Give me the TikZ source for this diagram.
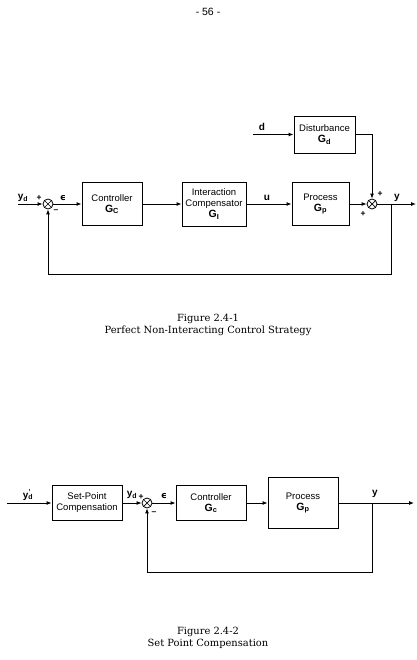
\documentclass[tikz,border=0pt]{standalone}
\usepackage{fontspec}
\setmainfont{DejaVu Serif}
\setsansfont{Liberation Sans}
\newfontfamily\greekfont{DejaVu Sans}
\usetikzlibrary{arrows.meta}

\begin{document}
\begin{tikzpicture}[x=1pt, y=-1pt,
  blk/.style ={draw, line width=0.9pt, align=center, inner sep=1pt,
               font=\sffamily\fontsize{9.5}{11}\selectfont},
  sumj/.style={draw, circle, line width=0.8pt, minimum size=10pt, inner sep=0pt,
               path picture={\draw[line width=0.7pt]
                 (path picture bounding box.north west) -- (path picture bounding box.south east)
                 (path picture bounding box.south west) -- (path picture bounding box.north east);}},
  sig/.style ={-{Latex[length=5pt, width=4pt]}, line width=0.9pt},
  lbl/.style ={font=\sffamily\bfseries\fontsize{10}{10}\selectfont, inner sep=0pt},
  sgn/.style ={font=\sffamily\bfseries\fontsize{8.5}{8.5}\selectfont, inner sep=0pt},
  figcap/.style={font=\fontsize{9.9}{12.5}\selectfont, align=center},
]
\newcommand\gname[1]{{\bfseries\fontsize{10.5}{12}\selectfont #1}}
\newcommand\errsym{{\greekfont\bfseries\fontsize{9}{9}\selectfont ϵ}}
\useasboundingbox (0,0) rectangle (416,660);

\node[font=\sffamily\fontsize{10.5}{10.5}\selectfont] (pg) at (208,12) {- 56 -};

% ============================ figure 2.4-1 ==================================
\node[blk, minimum width=60pt, minimum height=43pt] (ctrl) at (112,204)
     {Controller\\\gname{G\textsubscript{C}}};
\node[blk, minimum width=64pt, minimum height=44pt] (comp) at (214,204)
     {Interaction\\Compensator\\\gname{G\textsubscript{I}}};
\node[blk, minimum width=57pt, minimum height=43pt] (proc) at (320.5,204)
     {Process\\\gname{G\textsubscript{p}}};
\node[blk, minimum width=61pt, minimum height=37pt] (dist) at (324.5,134.5)
     {Disturbance\\\gname{G\textsubscript{d}}};
\node[sumj] (s1) at (48,204) {};
\node[sumj] (s2) at (372,204) {};

\coordinate (yin)  at (18,204);
\coordinate (din)  at (253,134.5);
\coordinate (tap)  at (391,204);
\coordinate (yout) at (416,204);
\coordinate (fb)   at (391,274);

\draw[sig] (yin) -- (s1);
\draw[sig] (s1) -- (ctrl);
\draw[sig] (ctrl) -- (comp);
\draw[sig] (comp) -- (proc);
\draw[sig] (proc) -- (s2);
\draw[sig] (din) -- (dist);
\draw[sig] (dist.east) -| (s2);
\draw[sig] (s2) -- (yout);
\draw[sig] (tap) -- (fb) -| (s1);

\node[lbl] (lyd) at (23,198) {y\textsubscript{d}};
\node[sgn] (p1)  at (39,198) {+};
\node[sgn] (m1)  at (56,211) {--};
\node[lbl] (le)  at (63,198) {\errsym};
\node[lbl] (lu)  at (267,198) {u};
\node[lbl] (ld)  at (262,127) {d};
\node[sgn] (p2)  at (380,194) {+};
\node[sgn] (p3)  at (363,214) {+};
\node[lbl] (ly)  at (397,198) {y};

\node[figcap] (c1) at (208,325) {Figure 2.4-1\\Perfect Non-Interacting Control Strategy};

% ============================ figure 2.4-2 ==================================
\node[blk, minimum width=70pt, minimum height=35pt] (spc) at (87,503)
     {Set-Point\\Compensation};
\node[blk, minimum width=70pt, minimum height=35pt] (ctrlb) at (211,503)
     {Controller\\\gname{G\textsubscript{c}}};
\node[blk, minimum width=70pt, minimum height=51pt] (procb) at (303,503)
     {Process\\\gname{G\textsubscript{p}}};
\node[sumj] (s3) at (147,503) {};

\coordinate (ydin)  at (7,503);
\coordinate (tapb)  at (372,503);
\coordinate (youtb) at (414,503);
\coordinate (fbb)   at (372,572);

\draw[sig] (ydin) -- (spc);
\draw[sig] (spc) -- (s3);
\draw[sig] (s3) -- (ctrlb);
\draw[sig] (ctrlb) -- (procb);
\draw[sig] (procb) -- (youtb);
\draw[sig] (tapb) -- (fbb) -| (s3);

\node[lbl] (lydp) at (28,495) {y\textsubscript{d}\llap{\textsuperscript{'}\hspace{2pt}}};
\node[lbl] (lyd2) at (132,495) {y\textsubscript{d}};
\node[sgn] (p4)   at (141,497) {+};
\node[sgn] (m2)   at (154,513) {--};
\node[lbl] (le2)  at (164,496) {\errsym};
\node[lbl] (ly2)  at (375,494) {y};

\node[figcap] (c2) at (208,638) {Figure 2.4-2\\Set Point Compensation};

\end{tikzpicture}
\end{document}
